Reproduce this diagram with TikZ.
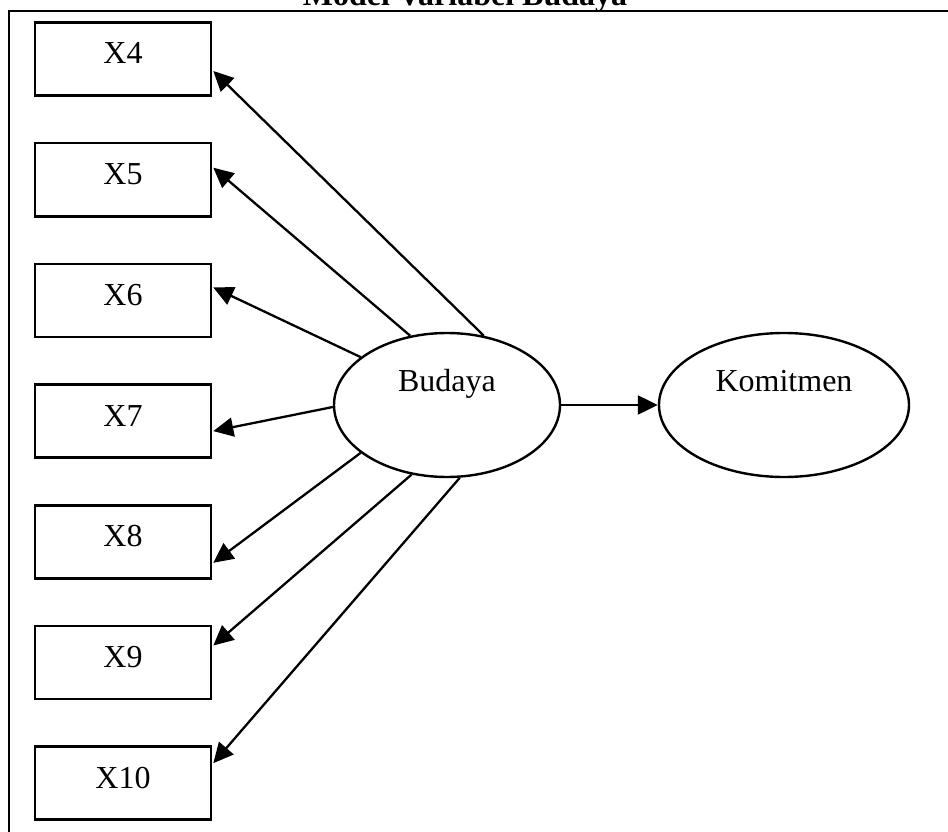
\documentclass[tikz,border=0pt]{standalone}
\usepackage{fontspec}
\setmainfont{Liberation Serif}
\usetikzlibrary{arrows.meta,shapes.geometric,calc}
\begin{document}
\begin{tikzpicture}[x=1pt,y=-1pt,
  every node/.style={font=\fontsize{32}{38}\selectfont},
  obsbox/.style={draw,line width=2.6pt,rectangle,minimum width=176pt,minimum height=73pt,
    inner sep=0pt,text height=21pt,text depth=11pt},
  latent/.style={draw,line width=2.4pt,ellipse,minimum height=144pt,inner sep=0pt,
    text height=21pt,text depth=48pt},
  link/.style={line width=2.3pt,-{Triangle[length=20pt,width=19pt]}},
  frameline/.style={line width=2.6pt}]
\useasboundingbox (0,0) rectangle (948,832);

% heading, partly cut off by the page edge
\begin{scope}
  \clip (0,0) rectangle (948,832);
  \node[anchor=base,font=\fontsize{32}{38}\selectfont\bfseries] (title) at (465,6) {Model Variabel Budaya};
\end{scope}

% frame
\coordinate (fbl) at (9,832);
\coordinate (ftl) at (9,11);
\coordinate (ftr) at (948,11);
\draw[frameline] (fbl) -- (ftl) -- (ftr);

% indicators
\node[obsbox] (x4)  at (123,59.0)  {X4};
\node[obsbox] (x5)  at (123,179.7) {X5};
\node[obsbox] (x6)  at (123,300.4) {X6};
\node[obsbox] (x7)  at (123,421.1) {X7};
\node[obsbox] (x8)  at (123,541.8) {X8};
\node[obsbox] (x9)  at (123,662.5) {X9};
\node[obsbox] (x10) at (123,783.2) {X10};

% latent variables
\node[latent,minimum width=226pt] (bud) at (447,405) {Budaya};
\node[latent,minimum width=250pt] (kom) at (784,405) {Komitmen};

% loadings
\draw[link] (bud.62)  -- ($(x4.east)+(1,12)$);
\draw[link] (bud.118) -- ($(x5.east)+(1,-12)$);
\draw[link] (bud.151) -- ($(x6.east)+(1,-13)$);
\draw[link] (bud.181) -- ($(x7.east)+(1,10)$);
\draw[link] (bud.209) -- ($(x8.east)+(1,21)$);
\draw[link] (bud.243) -- ($(x9.east)+(1,-17)$);
\draw[link] (bud.280) -- ($(x10.east)+(1,-20)$);

% structural path
\draw[link] (bud.east) -- (kom.west);
\end{tikzpicture}
\end{document}
